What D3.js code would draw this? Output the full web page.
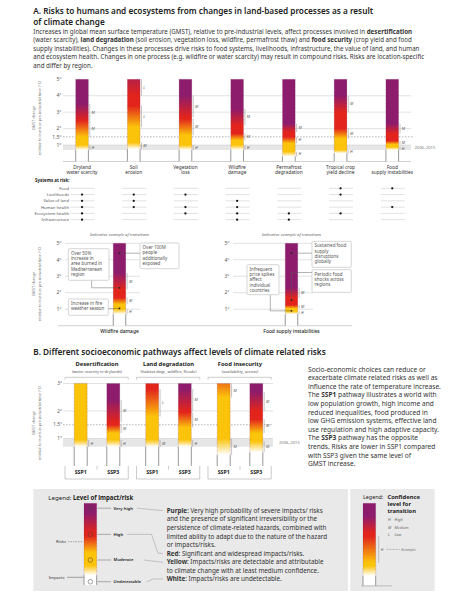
<!DOCTYPE html>
<html><head><meta charset="utf-8">
<script src="https://cdn.jsdelivr.net/npm/d3@7"></script>
<style>
body{margin:0;background:#fff;}
svg{display:block;font-family:"Noto Sans",sans-serif;}
</style></head><body>
<svg id="c" width="473" height="599"></svg>
<script>
// ---------------- DATA ----------------
const riskProcesses = ["Dryland water scarcity","Soil erosion","Vegetation loss","Wildfire damage","Permafrost degradation","Tropical crop yield decline","Food supply instabilities"];
const processLabels = [["Dryland","water scarcity"],["Soil","erosion"],["Vegetation","loss"],["Wildfire","damage"],["Permafrost","degradation"],["Tropical crop","yield decline"],["Food","supply instabilities"]];
// transitions [from °C, to °C, confidence]
const transWhiteYellow = [[0.7,1.0,"H"],[0.75,1.15,"M"],[0.7,1.0,"H"],[0.7,1.0,"H"],[0.3,0.6,"H"],[0.5,0.7,"H"],[0.7,0.87,"H"]];
const transYellowRed   = [[1.5,2.5,"M"],[2.1,3.4,"L"],[1.6,2.6,"M"],[1.3,1.7,"M"],[1.1,1.5,"H"],[1.4,2.0,"M"],[1.05,1.25,"M"]];
const transRedPurple   = [[2.5,3.5,"M"],[4.0,6.0,"L"],[2.7,4.0,"M"],[2.2,3.2,"M"],[1.8,2.3,"M"],[3.0,4.0,"M"],[1.7,2.3,"M"]];
const gmstTicksA = [1,1.5,2,3,4,5];
const recentPeriod = [0.7,1.0]; // 2006–2015 band
const systemsAtRisk = ["Food","Livelihoods","Value of land","Human health","Ecosystem health","Infrastructure"];
const systemsMatrix = [
  [0,1,1,1,1,1],
  [0,1,1,1,0,0],
  [0,1,0,1,1,0],
  [0,0,1,1,1,1],
  [0,0,0,0,1,1],
  [1,1,0,0,1,0],
  [1,0,0,1,0,0]];
const gmstTicksExample = [1,2,3,4,5];
const wildfireNotes = [
  {t:4.4, lines:["Over 100M","people","additionally","exposed"]},
  {t:2.3, lines:["Over 50%","increase in","area burned in","Mediterranean","region"]},
  {t:1.05, lines:["Increase in fire","weather season"]}];
const foodNotes = [
  {t:4.4, lines:["Sustained food","supply","disruptions","globally"]},
  {t:1.55, lines:["Periodic food","shocks across","regions"]},
  {t:0.9, lines:["Infrequent","price spikes","affect","individual","countries"]}];
const sspCategories = ["Desertification","Land degradation","Food insecurity"];
const sspSubtitles = ["(water scarcity in drylands)","(habitat degr., wildfire, floods)","(availability, access)"];
const pathways = ["SSP1","SSP3"];
// order: Desert SSP1, Desert SSP3, Land SSP1, Land SSP3, Food SSP1, Food SSP3
const sspWhiteYellow = [[0.7,0.95,"H"],[0.7,0.95,"H"],[0.7,0.95,"M"],[0.7,0.95,"H"],[0.4,1.0,"M"],[0.5,0.9,"M"]];
const sspYellowRed   = [null,[1.2,1.5,"M"],[1.8,2.8,"L"],[1.4,1.95,"M"],[2.5,3.5,"M"],[1.2,1.7,"M"]];
const sspRedPurple   = [null,[1.6,2.4,"M"],null,[2.0,2.8,"M"],null,[2.0,2.7,"M"]];
const gmstTicksB = [1,1.5,2,3];
const legendLevels = ["Very high","High","Moderate","Undetectable"];
const legendLevelPos = [4.7,3.1,1.53,0.2];
const legendTrans = [[0.6,1.2,""],[2.0,3.0,""],[3.2,4.4,""]];
const confLegendTrans = [[0.6,1.2,""],[1.4,3.0,"H"],[3.2,4.2,""]];
const confLevels = [["H","High"],["M","Medium"],["L","Low"]];

// ---------------- SETUP ----------------
const svg = d3.select("#c");
const defs = svg.append("defs");
const C = {white:"#ffffff", yellow:"#fcc30b", red:"#e2241c", purple:"#8d1c6c"};
const GRID = "#cfcfcf", TXT = "#333", AX = "#555";

function para(g, lines, x, y0, lh, refIdx, target, opts={}){
  const t = g.append("g").attr("font-size",10).attr("fill",opts.fill||TXT)
    .attr("font-weight",opts.weight||null).attr("text-anchor",opts.anchor||"start");
  const els = lines.map((segs,i)=>{
    const tx = t.append("text").attr("x",x).attr("y",y0+i*lh).attr("dy","0.35em");
    if (typeof segs === "string") segs=[[segs,0]];
    segs.forEach(([s,b])=>tx.append("tspan").attr("font-weight",b?700:null).text(s));
    return tx;
  });
  const w = els[refIdx].node().getComputedTextLength();
  t.attr("font-size", 10*target/w);
  return t;
}
function txt(g, x, y, s, size, opts={}){
  return g.append("text").attr("x",x).attr("y",y).attr("dy","0.35em").attr("font-size",size)
    .attr("fill",opts.fill||TXT).attr("text-anchor",opts.anchor||"start")
    .attr("font-weight",opts.weight||null).attr("font-style",opts.style||null).text(s);
}
let gid=0;
function drawBar(g, cx, w, y, top, wy, yr, rp, showConf=true){
  const trs=[wy,yr,rp].filter(Boolean);
  const maxT = Math.max(top, ...trs.map(d=>d[1]));
  const id="grad"+(gid++);
  const lg = defs.append("linearGradient").attr("id",id).attr("gradientUnits","userSpaceOnUse")
    .attr("x1",0).attr("x2",0).attr("y1",y(0)).attr("y2",y(maxT));
  const st=[[0,C.white],[wy[0],C.white],[wy[1],C.yellow]];
  if(yr){ st.push([yr[0],C.yellow],[yr[1],C.red]); if(rp) st.push([rp[0],C.red],[rp[1],C.purple]); }
  st.forEach(([t,c])=>lg.append("stop").attr("offset",t/maxT).attr("stop-color",c));
  const x0=cx-w/2, x1=cx+w/2, yc=y(wy[0]);
  g.append("rect").attr("x",x0).attr("y",y(top)).attr("width",w).attr("height",y(0)-y(top)).attr("fill",`url(#${id})`);
  g.append("path").attr("d",`M${x0},${y(0)}V${yc}M${x1},${y(0)}V${yc}`).attr("stroke","#8c8c8c").attr("stroke-width",0.9).attr("fill","none");
  g.append("path").attr("d",`M${x0},${yc}V${y(top)}H${x1}V${yc}`).attr("stroke","#6b1852").attr("stroke-opacity",0.55).attr("stroke-width",0.5).attr("stroke-dasharray","0.7,0.7").attr("fill","none");
  if(showConf) trs.forEach(tr=>{
    if(!tr[2]) return;
    const lo=tr[0], hi=Math.min(tr[1],top);
    g.append("line").attr("x1",x1+1.4).attr("x2",x1+1.4).attr("y1",y(lo)).attr("y2",y(hi)).attr("stroke","#8c8c8c").attr("stroke-width",0.5);
    txt(g, x1+3.2, y((lo+hi)/2), tr[2], 3.9, {fill:"#555", style:"italic"});
  });
}
function yTitle(g, x, yc){
  const t = g.append("text").attr("transform",`translate(${x},${yc}) rotate(-90)`).attr("text-anchor","middle").attr("font-size",3.8).attr("fill","#777");
  t.append("tspan").attr("x",0).attr("dy",0).text("GMST change");
  t.append("tspan").attr("x",0).attr("dy",5.6).text("relative to levels in pre-industrial time (°C)");
}

// ---------------- SECTION A ----------------
const gA = svg.append("g");
para(gA, [[["A. Risks to humans and ecosystems from changes in land-based processes as a result",0]],[["of climate change",0]]], 33.3, 11, 10.7, 0, 340, {fill:"#222", weight:600});
para(gA, [
  [["Increases in global mean surface temperature (GMST), relative to pre-industrial levels, affect processes involved in ",0],["desertification",1]],
  [["(water scarcity), ",0],["land degradation",1],[" (soil erosion, vegetation loss, wildfire, permafrost thaw) and ",0],["food security",1],[" (crop yield and food",0]],
  [["supply instabilities). Changes in these processes drive risks to food systems, livelihoods, infrastructure, the value of land, and human",0]],
  [["and ecosystem health. Changes in one process (e.g. wildfire or water scarcity) may result in compound risks. Risks are location-specific",0]],
  [["and differ by region.",0]]], 33.3, 31.7, 8.5, 0, 379);

const yA = d3.scaleLinear().domain([0,5]).range([161.5,79.3]);
const xA = d3.scaleBand().domain(riskProcesses).range([56.2,418.1]);
const cxA = d => xA(d)+xA.bandwidth()/2;
const gx0=63, gx1=411;
gA.append("rect").attr("x",gx0).attr("width",gx1-gx0).attr("y",yA(recentPeriod[1])).attr("height",yA(recentPeriod[0])-yA(recentPeriod[1])).attr("fill","#e6e6e6");
gmstTicksA.forEach(t=>{
  txt(gA, 61.5, yA(t), (t===1.5?"1.5°":t+"°"), 5, {fill:AX, anchor:"end"});
  if(t<5) gA.append("line").attr("x1",gx0).attr("x2",t===1.5?gx1+3:gx1).attr("y1",yA(t)).attr("y2",yA(t))
    .attr("stroke",t===1.5?"#888":GRID).attr("stroke-width",0.6).attr("stroke-dasharray",t===1.5?"1.6,1.4":null);
});
gA.append("line").attr("x1",gx0).attr("x2",gx1).attr("y1",yA(0)).attr("y2",yA(0)).attr("stroke","#bbb").attr("stroke-width",0.7);
txt(gA, 414.5, yA(0.85), "2006–2015", 4.1, {fill:"#777"});
yTitle(gA, 35, 118);
riskProcesses.forEach((p,i)=>{
  drawBar(gA, cxA(p), 12.7, yA, 5, transWhiteYellow[i], transYellowRed[i], transRedPurple[i]);
  processLabels[i].forEach((l,j)=>txt(gA, cxA(p), 167.3+j*5.4, l, 4.8, {anchor:"middle", fill:TXT}));
});

// Systems at risk
txt(gA, 35, 180.7, "Systems at risk:", 4.4, {weight:700, fill:"#222"});
systemsAtRisk.forEach((s,r)=>{
  const yy = 188.3 + r*6.27;
  txt(gA, 69, yy, s, 4.2, {anchor:"end", fill:AX});
  riskProcesses.forEach((p,i)=>{
    gA.append("line").attr("x1",cxA(p)-11.5).attr("x2",cxA(p)+12.5).attr("y1",yy).attr("y2",yy).attr("stroke","#cfcfcf").attr("stroke-width",0.6);
    if(systemsMatrix[i][r]) gA.append("circle").attr("cx",cxA(p)).attr("cy",yy).attr("r",1.15).attr("fill","#111");
  });
});

// Indicative examples
const yI = d3.scaleLinear().domain([0,5]).range([325.7,243.3]);
const gI = svg.append("g");
yTitle(gI, 35, 284);
gI.append("line").attr("x1",58).attr("x2",352).attr("y1",yI(0)).attr("y2",yI(0)).attr("stroke","#bbb").attr("stroke-width",0.7);
function examplePanel(cx, axX, gx0, gx1, procIdx, label, notes, layout){
  txt(gI, cx, 234.3, "Indicative example of transitions", 4.1, {anchor:"middle", fill:"#666", style:"italic"});
  gmstTicksExample.forEach(t=>{
    txt(gI, axX, yI(t), t+"°", 5, {fill:AX, anchor:"end"});
    gI.append("line").attr("x1",gx0).attr("x2",gx1).attr("y1",yI(t)).attr("y2",yI(t)).attr("stroke",GRID).attr("stroke-width",0.6);
  });
  drawBar(gI, cx, 12.5, yI, 5, transWhiteYellow[procIdx], transYellowRed[procIdx], transRedPurple[procIdx]);
  txt(gI, cx, 331.3, label, 4.9, {anchor:"middle", fill:"#222", weight:500});
  notes.forEach((n,k)=>{
    const L = layout[k], yd = yI(n.t);
    let d;
    if(L.conn==="right") d=`M${cx},${yd}H${L.x}`;
    else if(L.conn==="left") d=`M${cx},${yd}H${L.x+L.w}`;
    else if(L.conn==="down") d=`M${cx},${yd}H${L.cx}V${L.y+L.h}`;
    else if(L.conn==="up") d=`M${cx},${yd}V${L.cy}H${L.x}`;
    gI.append("path").attr("d",d).attr("stroke","#555").attr("stroke-width",0.45).attr("fill","none");
    gI.append("circle").attr("cx",cx).attr("cy",yd).attr("r",0.9).attr("fill","#222");
    gI.append("rect").attr("x",L.x).attr("y",L.y).attr("width",L.w).attr("height",L.h).attr("rx",1.2)
      .attr("fill","#fff").attr("stroke","#bbb").attr("stroke-width",0.6);
    n.lines.forEach((l,j)=>txt(gI, L.x+2.6, L.y+4.4+j*5.35, l, 4.5, {fill:"#555"}));
  });
}
examplePanel(119.5, 61.5, 65, 140, 3, "Wildfire damage", wildfireNotes, [
  {x:140, y:243, w:39, h:25.7, conn:"right"},
  {x:68.3, y:248.7, w:40.7, h:31.6, conn:"down", cx:91.7},
  {x:68.3, y:299, w:40, h:16.3, conn:"left"}]);
examplePanel(291.5, 229.5, 233, 313, 6, "Food supply instabilities", foodNotes, [
  {x:312, y:241.3, w:39.3, h:26, conn:"right"},
  {x:312, y:269.7, w:39.3, h:22.6, conn:"up", cy:272.5},
  {x:247, y:264.7, w:32, h:30, conn:"down", cx:270.3}]);

// ---------------- SECTION B ----------------
const gB = svg.append("g");
para(gB, [[["B. Different socioeconomic pathways affect levels of climate related risks",0]]], 33.3, 351.7, 10, 0, 293, {fill:"#222", weight:600});
const yB = d3.scaleLinear().domain([0,3]).range([466,383.5]);
const xG = d3.scaleBand().domain(sspCategories).range([61.25,275.75]);
const xP = d3.scalePoint().domain(pathways).range([19.45,52.05]);
const bx0=63, bx1=273;
gB.append("rect").attr("x",bx0).attr("width",bx1-bx0).attr("y",yB(recentPeriod[1])).attr("height",yB(recentPeriod[0])-yB(recentPeriod[1])).attr("fill","#e6e6e6");
gmstTicksB.forEach(t=>{
  txt(gB, 62, yB(t), (t===1.5?"1.5°":t+"°"), 4.8, {fill:AX, anchor:"end"});
  gB.append("line").attr("x1",bx0).attr("x2",bx1).attr("y1",yB(t)).attr("y2",yB(t))
    .attr("stroke",t===1.5?"#888":GRID).attr("stroke-width",0.6).attr("stroke-dasharray",t===1.5?"1.6,1.4":null);
});
txt(gB, 279, yB(0.85), "2006–2015", 4.1, {fill:"#777"});
yTitle(gB, 35, 423);
sspCategories.forEach((c,gi)=>{
  const g0 = xG(c), gc = g0+xG.bandwidth()/2;
  txt(gB, gc, 364.3, c, 5.8, {anchor:"middle", weight:700, fill:"#222"});
  txt(gB, gc, 371.7, sspSubtitles[gi], 4.0, {anchor:"middle", fill:"#555"});
  gB.append("path").attr("d",`M${g0+3.75},${379.5}V${377.3}H${g0+67}V${379.5}`).attr("stroke","#aaa").attr("stroke-width",0.6).attr("fill","none");
  gB.append("path").attr("d",`M${g0+3.75},${466}V${479}H${g0+67}V${466}M${gc},466V469.5`).attr("stroke","#aaa").attr("stroke-width",0.6).attr("fill","none");
  pathways.forEach((p,pi)=>{
    const k = gi*2+pi, cx = g0+xP(p);
    drawBar(gB, cx, 13, yB, 3, sspWhiteYellow[k], sspYellowRed[k], sspRedPurple[k]);
    txt(gB, cx, 471.7, p, 5.2, {anchor:"middle", weight:700, fill:"#222"});
  });
});
para(gB, [
  [["Socio-economic choices can reduce or",0]],
  [["exacerbate climate related risks as well as",0]],
  [["influence the rate of temperature increase.",0]],
  [["The ",0],["SSP1",1],[" pathway illustrates a world with",0]],
  [["low population growth, high income and",0]],
  [["reduced inequalities, food produced in",0]],
  [["low GHG emission systems, effective land",0]],
  [["use regulation and high adaptive capacity.",0]],
  [["The ",0],["SSP3",1],[" pathway has the opposite",0]],
  [["trends. Risks are lower in SSP1 compared",0]],
  [["with SSP3 given the same level of",0]],
  [["GMST increase.",0]]], 308, 369.3, 8.6, 2, 133.3);

// ---------------- LEGENDS ----------------
const gL = svg.append("g");
gL.append("rect").attr("x",33.3).attr("y",489).attr("width",314.7).attr("height",102).attr("fill","#e9e9e9");
gL.append("rect").attr("x",350.3).attr("y",489).attr("width",84.4).attr("height",102).attr("fill","#e9e9e9");
para(gL, [[["Legend: ",0],["Level of impact/risk",1]]], 48.3, 497.7, 8, 0, 85, {fill:"#222"});
const yL = d3.scaleLinear().domain([0,5]).range([585,503.3]);
drawBar(gL, 90.35, 12.7, yL, 5, legendTrans[0], legendTrans[1], legendTrans[2], false);
const levelFill = [C.purple, C.red, C.yellow, C.white];
legendLevels.forEach((lv,i)=>{
  const yy = yL(legendLevelPos[i]);
  gL.append("circle").attr("cx",90.35).attr("cy",yy).attr("r",2.3).attr("fill",levelFill[i]).attr("stroke","#444").attr("stroke-width",0.5);
  gL.append("line").attr("x1",97.5).attr("x2",111).attr("y1",yy).attr("y2",yy).attr("stroke","#666").attr("stroke-width",0.5);
  txt(gL, 113.5, yy, lv, 4.2, {fill:"#222", weight:600});
});
txt(gL, 66, 541.7, "Risks", 4.2, {anchor:"end", fill:"#333"});
gL.append("line").attr("x1",68).attr("x2",83).attr("y1",541.7).attr("y2",541.7).attr("stroke","#555").attr("stroke-width",0.5).attr("stroke-dasharray","1.5,1");
txt(gL, 64.5, 577.3, "Impacts", 4.2, {anchor:"end", fill:"#333"});
gL.append("line").attr("x1",67).attr("x2",83.5).attr("y1",577.3).attr("y2",577.3).attr("stroke","#555").attr("stroke-width",0.5);
const descLeaders = [
  `M137,${yL(legendLevelPos[0])}L163,510.7`,
  `M127,${yL(legendLevelPos[1])}H151.5L158,553.3H163`,
  `M143.5,${yL(legendLevelPos[2])}L163,562.3`,
  `M147,${yL(legendLevelPos[3])}L153,579H163`];
descLeaders.forEach(d=>gL.append("path").attr("d",d).attr("stroke","#999").attr("stroke-width",0.5).attr("fill","none"));
para(gL, [
  [["Purple",1],[": Very high probability of severe impacts/ risks",0]],
  [["and the presence of significant irreversibility or the",0]],
  [["persistence of climate-related hazards, combined with",0]],
  [["limited ability to adapt due to the nature of the hazard",0]],
  [["or impacts/risks.",0]],
  [["Red",1],[": Significant and widespread impacts/risks.",0]],
  [["Yellow",1],[": Impacts/risks are detectable and attributable",0]],
  [["to climate change with at least medium confidence.",0]],
  [["White",1],[": Impacts/risks are undetectable.",0]]], 166.7, 510.7, 8.55, 3, 160.6);

// Confidence legend
txt(gL, 363, 497.3, "Legend:", 5.4, {fill:"#222"});
["Confidence","level for","transition"].forEach((s,i)=>txt(gL, 387.5, 497.3+i*6.9, s, 5.8, {fill:"#222", weight:700}));
confLevels.forEach(([a,b],i)=>{
  txt(gL, 388, 520+i*7.5, a, 3.9, {fill:"#666", style:"italic"});
  txt(gL, 394.5, 520+i*7.5, b, 3.9, {fill:"#666", style:"italic"});
});
const yCL = d3.scaleLinear().domain([0,5]).range([585.7,503.3]);
drawBar(gL, 369.35, 12.7, yCL, 5, confLegendTrans[0], confLegendTrans[1], confLegendTrans[2], false);
gL.append("line").attr("x1",361).attr("x2",392).attr("y1",585.9).attr("y2",585.9).attr("stroke","#999").attr("stroke-width",0.6);
const ct = confLegendTrans[1];
gL.append("line").attr("x1",378.7).attr("x2",378.7).attr("y1",yCL(ct[0])).attr("y2",yCL(ct[1])).attr("stroke","#888").attr("stroke-width",0.5);
const ym = yCL((ct[0]+ct[1])/2);
txt(gL, 380.8, ym, ct[2], 3.9, {fill:"#666", style:"italic"});
gL.append("line").attr("x1",386.5).attr("x2",399.5).attr("y1",ym).attr("y2",ym).attr("stroke","#777").attr("stroke-width",0.5).attr("stroke-dasharray","1.8,1.2");
txt(gL, 401.3, ym, "Example", 3.9, {fill:"#777", style:"italic"});
</script>
</body></html>
